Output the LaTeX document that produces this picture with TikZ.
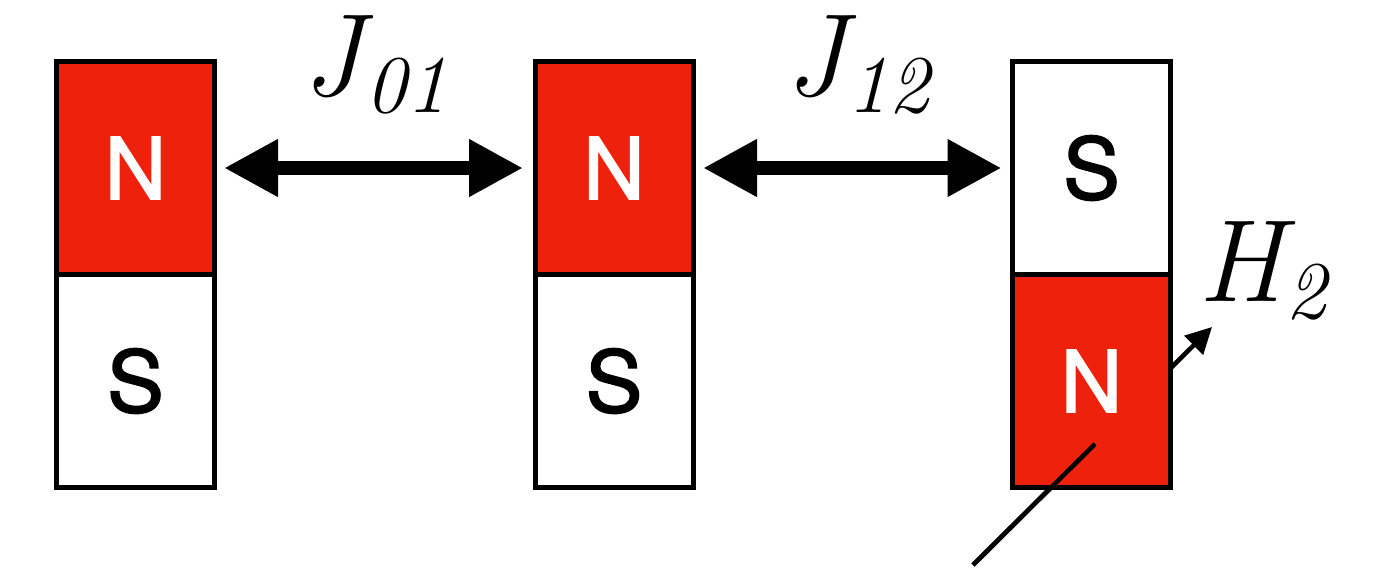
\documentclass[tikz,border=0pt]{standalone}
\usepackage{fontspec}
\newfontfamily\magfont[FakeBold=2]{TeX Gyre Heros}
\usetikzlibrary{arrows.meta}
\definecolor{magred}{RGB}{238,34,12}
\newcommand{\symsub}[2]{{\itshape #1\kern2pt}\raisebox{-17pt}{\fontsize{82}{82}\selectfont\itshape #2}}
\begin{document}
\begin{tikzpicture}[x=1pt,y=-1pt,
  half/.style={draw=black, line width=5pt, minimum width=158pt, minimum height=213pt,
    inner sep=0pt, outer sep=0pt, font=\magfont\fontsize{85}{85}\selectfont},
  npole/.style={half, fill=magred, text=white},
  spole/.style={half, fill=white, text=black},
  coupling/.style={line width=14pt,
    {Triangle[length=54pt,width=54pt]}-{Triangle[length=54pt,width=54pt]}},
  lbl/.style={font=\fontsize{117}{117}\selectfont, inner sep=0pt},
  field/.style={line width=4.5pt, -{Triangle[length=26pt,width=26pt]}},
  fieldfront/.style={line width=4.5pt}]
\useasboundingbox (0,0) rectangle (1383,570);
% field arrow (passes behind the magnet)
\coordinate (hs) at (973,565);
\coordinate (hm) at (1095,444);
\coordinate (ht) at (1212,327);
\draw[field] (hs) -- (ht);
% magnets
\node[npole] (m0n) at (135.5,168) {N};
\node[spole] (m0s) at (135.5,381) {S};
\node[npole] (m1n) at (614,168) {N};
\node[spole] (m1s) at (614,381) {S};
\node[spole] (m2s) at (1091.5,168) {S};
\node[npole] (m2n) at (1091.5,381) {N};
% front part of the field line
\draw[fieldfront] (hs) -- (hm);
% couplings
\draw[coupling, shorten <=9.5pt, shorten >=12pt] (m0n.east) -- (m1n.west);
\draw[coupling, shorten <=10pt, shorten >=11pt] (m1n.east) -- (m2s.west);
% labels
\node[lbl, anchor=base] (j01) at (375,95) {\symsub{J}{01}};
\node[lbl, anchor=base] (j12) at (857,95) {\symsub{J}{12}};
\node[lbl, anchor=base west] (h2) at (1198,301.7) {\symsub{H}{2}};
\end{tikzpicture}
\end{document}
